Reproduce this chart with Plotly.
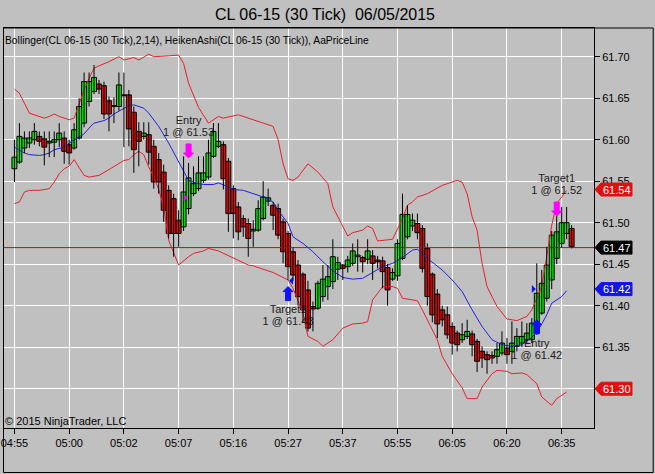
import plotly.graph_objects as go

# ---------------- data ----------------
title_text = "CL 06-15 (30 Tick)  06/05/2015"
legend_text = "Bollinger(CL 06-15 (30 Tick),2,14), HeikenAshi(CL 06-15 (30 Tick)), AaPriceLine"
copyright_text = "\u00a9 2015 NinjaTrader, LLC"

tick_index = [0, 11, 22, 33, 44, 55, 66, 77, 88, 99, 110]
tick_labels = ["04:55", "05:00", "05:02", "05:07", "05:16", "05:27",
               "05:37", "05:55", "06:05", "06:20", "06:35"]

ha_open = [61.565, 61.573, 61.590, 61.596, 61.600, 61.604, 61.601, 61.596, 61.597, 61.600,
           61.602, 61.594, 61.590, 61.602, 61.620, 61.646, 61.658, 61.667, 61.665, 61.647,
           61.640, 61.640, 61.654, 61.654, 61.633, 61.610, 61.604, 61.606, 61.592, 61.576,
           61.561, 61.539, 61.529, 61.503, 61.495, 61.517, 61.535, 61.541, 61.551, 61.555,
           61.580, 61.592, 61.594, 61.574, 61.541, 61.519, 61.505, 61.499, 61.490, 61.491,
           61.505, 61.526, 61.521, 61.517, 61.501, 61.487, 61.465, 61.449, 61.438, 61.419,
           61.399, 61.397, 61.411, 61.423, 61.429, 61.444, 61.449, 61.447, 61.451, 61.459,
           61.458, 61.456, 61.460, 61.455, 61.454, 61.446, 61.432, 61.436, 61.457, 61.483,
           61.496, 61.499, 61.493, 61.469, 61.438, 61.414, 61.395, 61.389, 61.375, 61.367,
           61.359, 61.363, 61.366, 61.357, 61.345, 61.341, 61.340, 61.339, 61.343, 61.349,
           61.345, 61.351, 61.355, 61.359, 61.359, 61.367, 61.391, 61.409, 61.431, 61.457,
           61.475, 61.487, 61.493]
ha_high = [61.600, 61.620, 61.610, 61.610, 61.620, 61.610, 61.610, 61.610, 61.610, 61.620,
           61.610, 61.600, 61.620, 61.650, 61.681, 61.681, 61.690, 61.672, 61.670, 61.652,
           61.651, 61.681, 61.681, 61.660, 61.640, 61.621, 61.621, 61.621, 61.600, 61.584,
           61.570, 61.545, 61.535, 61.515, 61.580, 61.572, 61.568, 61.580, 61.580, 61.600,
           61.620, 61.620, 61.598, 61.578, 61.545, 61.525, 61.509, 61.505, 61.503, 61.527,
           61.550, 61.541, 61.525, 61.523, 61.505, 61.490, 61.470, 61.455, 61.440, 61.430,
           61.405, 61.430, 61.449, 61.449, 61.480, 61.459, 61.450, 61.460, 61.475, 61.480,
           61.460, 61.480, 61.467, 61.460, 61.459, 61.450, 61.445, 61.480, 61.535, 61.521,
           61.511, 61.511, 61.497, 61.475, 61.440, 61.420, 61.400, 61.399, 61.380, 61.370,
           61.379, 61.383, 61.370, 61.360, 61.351, 61.345, 61.345, 61.355, 61.369, 61.361,
           61.381, 61.373, 61.381, 61.379, 61.385, 61.451, 61.443, 61.471, 61.490, 61.515,
           61.519, 61.519, 61.497]
ha_low = [61.549, 61.571, 61.584, 61.590, 61.594, 61.592, 61.569, 61.579, 61.579, 61.591,
          61.571, 61.570, 61.588, 61.600, 61.615, 61.640, 61.655, 61.655, 61.625, 61.610,
          61.620, 61.635, 61.591, 61.592, 61.560, 61.568, 61.600, 61.570, 61.541, 61.535,
          61.501, 61.481, 61.459, 61.471, 61.490, 61.510, 61.532, 61.538, 61.548, 61.552,
          61.578, 61.590, 61.540, 61.489, 61.481, 61.479, 61.483, 61.459, 61.471, 61.489,
          61.503, 61.520, 61.491, 61.480, 61.451, 61.431, 61.430, 61.400, 61.380, 61.369,
          61.369, 61.395, 61.405, 61.407, 61.420, 61.431, 61.431, 61.440, 61.448, 61.441,
          61.440, 61.450, 61.431, 61.445, 61.421, 61.400, 61.430, 61.430, 61.455, 61.480,
          61.490, 61.480, 61.440, 61.400, 61.380, 61.361, 61.375, 61.360, 61.341, 61.345,
          61.355, 61.360, 61.339, 61.320, 61.325, 61.318, 61.330, 61.330, 61.340, 61.330,
          61.330, 61.345, 61.350, 61.355, 61.355, 61.365, 61.389, 61.405, 61.420, 61.450,
          61.470, 61.480, 61.469]
ha_close = [61.579, 61.604, 61.602, 61.602, 61.610, 61.598, 61.591, 61.598, 61.600, 61.608,
            61.586, 61.584, 61.612, 61.640, 61.670, 61.670, 61.675, 61.661, 61.631, 61.631,
            61.641, 61.666, 61.653, 61.613, 61.588, 61.598, 61.608, 61.585, 61.549, 61.549,
            61.515, 61.487, 61.487, 61.487, 61.537, 61.554, 61.547, 61.560, 61.560, 61.584,
            61.610, 61.598, 61.553, 61.511, 61.511, 61.489, 61.495, 61.481, 61.492, 61.517,
            61.531, 61.530, 61.509, 61.485, 61.465, 61.447, 61.437, 61.411, 61.395, 61.373,
            61.396, 61.427, 61.432, 61.435, 61.459, 61.452, 61.445, 61.455, 61.466, 61.461,
            61.453, 61.466, 61.451, 61.453, 61.441, 61.419, 61.440, 61.475, 61.510, 61.510,
            61.503, 61.488, 61.445, 61.411, 61.389, 61.378, 61.383, 61.365, 61.355, 61.353,
            61.365, 61.369, 61.353, 61.333, 61.337, 61.335, 61.337, 61.347, 61.355, 61.341,
            61.355, 61.363, 61.363, 61.367, 61.379, 61.415, 61.427, 61.449, 61.485, 61.489,
            61.500, 61.500, 61.471]

upper_idx = [0, 1, 2, 3, 4, 5, 6, 7, 8, 9, 10, 11, 12, 13, 14, 15, 16, 17, 19, 21, 22, 24, 25,
             27, 28, 31, 33, 34, 35, 37, 39, 41, 42, 45, 46, 48, 52, 53, 54, 55, 56, 57, 59,
             61, 63, 64, 66, 67, 68, 70, 71, 72, 73, 75, 76, 78, 79, 80, 81, 83, 86, 87, 89,
             90, 91, 92, 93, 94, 95, 97, 99, 101, 103, 104, 106, 107, 108, 109, 111]
upper_val = [61.661, 61.656, 61.644, 61.632, 61.630, 61.628, 61.626, 61.628, 61.631, 61.628,
             61.626, 61.624, 61.626, 61.644, 61.660, 61.674, 61.686, 61.689, 61.694, 61.700,
             61.696, 61.699, 61.696, 61.703, 61.700, 61.701, 61.702, 61.692, 61.668, 61.639,
             61.620, 61.628, 61.626, 61.630, 61.628, 61.624, 61.616, 61.600, 61.571, 61.553,
             61.551, 61.555, 61.571, 61.561, 61.547, 61.519, 61.495, 61.484, 61.488, 61.491,
             61.496, 61.493, 61.478, 61.479, 61.480, 61.505, 61.521, 61.525, 61.531, 61.535,
             61.545, 61.547, 61.551, 61.549, 61.535, 61.507, 61.491, 61.451, 61.423, 61.399,
             61.384, 61.382, 61.387, 61.395, 61.423, 61.459, 61.497, 61.523, 61.539]

middle_idx = [0, 2, 3, 5, 6, 7, 8, 10, 11, 12, 14, 15, 16, 18, 19, 20, 22, 23, 24, 26, 27,
              29, 31, 33, 34, 35, 37, 38, 40, 41, 43, 44, 46, 48, 50, 52, 53, 55, 56, 58,
              60, 62, 64, 66, 68, 70, 72, 74, 76, 78, 80, 81, 83, 86, 88, 90, 92, 94, 96,
              98, 100, 102, 104, 105, 106, 107, 108, 110, 111]
middle_val = [61.591, 61.584, 61.582, 61.581, 61.582, 61.584, 61.588, 61.591, 61.596, 61.600,
              61.607, 61.614, 61.620, 61.623, 61.626, 61.631, 61.638, 61.641, 61.642, 61.638,
              61.632, 61.616, 61.596, 61.574, 61.563, 61.551, 61.547, 61.546, 61.546, 61.548,
              61.543, 61.540, 61.539, 61.535, 61.531, 61.525, 61.515, 61.499, 61.483, 61.475,
              61.465, 61.453, 61.442, 61.434, 61.432, 61.433, 61.440, 61.447, 61.451, 61.458,
              61.467, 61.468, 61.457, 61.443, 61.431, 61.417, 61.395, 61.375, 61.359, 61.353,
              61.351, 61.353, 61.362, 61.368, 61.378, 61.389, 61.403, 61.411, 61.418]

lower_idx = [0, 1, 2, 3, 5, 7, 8, 9, 10, 11, 12, 13, 14, 15, 17, 19, 20, 21, 22, 23, 24, 25,
             26, 27, 28, 29, 30, 31, 33, 35, 36, 38, 39, 41, 43, 45, 47, 48, 50, 52, 53, 55,
             56, 58, 59, 61, 62, 64, 66, 68, 70, 71, 72, 74, 76, 77, 78, 80, 81, 82, 84, 85,
             86, 88, 90, 91, 93, 94, 96, 97, 99, 100, 102, 103, 105, 106, 108, 109, 111]
lower_val = [61.523, 61.525, 61.537, 61.539, 61.539, 61.541, 61.549, 61.559, 61.565, 61.568,
             61.576, 61.567, 61.557, 61.555, 61.557, 61.564, 61.568, 61.572, 61.575, 61.576,
             61.582, 61.586, 61.582, 61.567, 61.555, 61.540, 61.519, 61.479, 61.449, 61.459,
             61.463, 61.466, 61.469, 61.466, 61.460, 61.455, 61.449, 61.448, 61.444, 61.440,
             61.437, 61.431, 61.421, 61.391, 61.363, 61.357, 61.351, 61.359, 61.373, 61.378,
             61.379, 61.381, 61.407, 61.423, 61.423, 61.421, 61.409, 61.407, 61.406, 61.395,
             61.372, 61.359, 61.339, 61.318, 61.301, 61.288, 61.288, 61.302, 61.318, 61.322,
             61.321, 61.318, 61.319, 61.317, 61.306, 61.290, 61.280, 61.288, 61.296]

price_line = 61.47

trade_idx = [35, 55, 105, 109]
trade_name = ["Entry", "Target1", "Entry", "Target1"]
trade_qty = [1, 1, 1, 1]
trade_price = [61.53, 61.43, 61.42, 61.52]
trade_action = ["sell", "buy", "buy", "sell"]
trade_is_entry = [True, False, True, False]
trade_arrow_price = [61.578, 61.423, 61.383, 61.508]

badge_price = [61.54, 61.47, 61.42, 61.30]
badge_color = ["#e01010", "#000000", "#1414e6", "#e01010"]

# ---------------- layout constants ----------------
W, H = 655, 474
PL, PR, PT, PB = 1, 594, 28, 428
PRICE_TOP_REF, PX_REF_Y, PX_PER_UNIT = 61.70, 56.7, 830.0
Y_MAX = PRICE_TOP_REF + (PX_REF_Y - PT) / PX_PER_UNIT
Y_MIN = PRICE_TOP_REF - (PB - PX_REF_Y) / PX_PER_UNIT
X_MIN = -2.1
X_MAX = X_MIN + (PR - PL) / 5.0
PLOT_H = PB - PT

BG = "#c0c0c0"
UP = "#18e018"
DN = "#d81010"
MAGENTA = "#ff00ff"
BLUE = "#1010ff"
FONT = "Liberation Sans, Arial, sans-serif"

fig = go.Figure()

# price line
fig.add_trace(go.Scatter(x=[X_MIN, X_MAX], y=[price_line, price_line], mode="lines",
                         line=dict(color="#e00000", width=1), hoverinfo="skip"))

# Bollinger bands
fig.add_trace(go.Scatter(x=upper_idx, y=upper_val, mode="lines",
                         line=dict(color="#e8202a", width=1), hoverinfo="skip"))
fig.add_trace(go.Scatter(x=lower_idx, y=lower_val, mode="lines",
                         line=dict(color="#e8202a", width=1), hoverinfo="skip"))
fig.add_trace(go.Scatter(x=middle_idx, y=middle_val, mode="lines",
                         line=dict(color="#2020e0", width=1), hoverinfo="skip"))

# trade texts (drawn below candles, as in the reference)
for i, name, q, p, act, ap in zip(trade_idx, trade_name, trade_qty, trade_price,
                                  trade_action, trade_arrow_price):
    if act == "sell":
        y1 = ap + 37 / PX_PER_UNIT
        y2 = ap + 25 / PX_PER_UNIT
    else:
        y1 = ap - 24 / PX_PER_UNIT
        y2 = ap - 36 / PX_PER_UNIT
    fig.add_trace(go.Scatter(x=[i, i], y=[y1, y2], mode="text",
                             text=[name, f"{q} @ {p:.2f}"], textposition="middle center",
                             textfont=dict(family=FONT, size=11, color="#202020"),
                             hoverinfo="skip"))

# wicks
n = len(ha_open)
wx, wy = [], []
for i in range(n):
    wx += [i, i, None]
    wy += [ha_low[i], ha_high[i], None]
fig.add_trace(go.Scatter(x=wx, y=wy, mode="lines", line=dict(color="#000000", width=1),
                         hoverinfo="skip"))

# bodies
base = [min(o, c) for o, c in zip(ha_open, ha_close)]
height = [max(abs(c - o), 0.0008) for o, c in zip(ha_open, ha_close)]
colors = [UP if c >= o else DN for o, c in zip(ha_open, ha_close)]
fig.add_trace(go.Bar(x=list(range(n)), y=height, base=base, width=1.0,
                     marker=dict(color=colors, line=dict(color="#000000", width=1)),
                     hoverinfo="skip"))

shapes = []
annotations = []

# trade arrows and execution triangles
for i, p, act, is_entry, ap in zip(trade_idx, trade_price, trade_action,
                                   trade_is_entry, trade_arrow_price):
    col = MAGENTA if act == "sell" else BLUE
    if act == "sell":
        path = "M-2.5,14 L2.5,14 L2.5,5 L5,5 L0,0 L-5,5 L-2.5,5 Z"
    else:
        path = "M-2.5,-14 L2.5,-14 L2.5,-5 L5,-5 L0,0 L-5,-5 L-2.5,-5 Z"
    shapes.append(dict(type="path", xref="x", yref="y", xsizemode="pixel", ysizemode="pixel",
                       xanchor=i, yanchor=ap, path=path, fillcolor=col,
                       line=dict(color=col, width=1), layer="above"))
    if i != trade_idx[-1]:
        tpath = "M-5,4 L-1,0 L-5,-4 Z" if is_entry else "M5,4 L1,0 L5,-4 Z"
        shapes.append(dict(type="path", xref="x", yref="y", xsizemode="pixel",
                           ysizemode="pixel", xanchor=i, yanchor=p, path=tpath,
                           fillcolor=col, line=dict(color=col, width=0), layer="above"))

# price badges on the axis
for p, c in zip(badge_price, badge_color):
    shapes.append(dict(type="path", xref="paper", yref="y", xsizemode="pixel",
                       ysizemode="pixel", xanchor=1, yanchor=p,
                       path="M1,0 L7,6.5 L38,6.5 L38,-6.5 L7,-6.5 Z",
                       fillcolor=c, line=dict(color=c, width=1), layer="above"))
    annotations.append(dict(x=1, xref="paper", y=p, yref="y", xshift=22.5,
                            text=f"{p:.2f}", showarrow=False, xanchor="center",
                            yanchor="middle",
                            font=dict(family=FONT, size=11, color="#ffffff")))

# outer frame
shapes.append(dict(type="rect", xref="paper", yref="paper",
                   x0=(0.5 - PL) / (PR - PL), x1=(653.5 - PL) / (PR - PL),
                   y0=(PB - 472.5) / PLOT_H, y1=1.0,
                   line=dict(color="#000000", width=1), layer="above"))

annotations.append(dict(x=(324 - PL) / (PR - PL), xref="paper", y=(PB - 14.5) / PLOT_H,
                        yref="paper", text=title_text, showarrow=False,
                        xanchor="center", yanchor="middle",
                        font=dict(family=FONT, size=16, color="#000000")))
annotations.append(dict(x=(3 - PL) / (PR - PL), xref="paper", y=(PB - 40) / PLOT_H,
                        yref="paper", text=legend_text, showarrow=False,
                        xanchor="left", yanchor="middle", xshift=-3,
                        font=dict(family=FONT, size=10.3, color="#000000")))
annotations.append(dict(x=(3 - PL) / (PR - PL), xref="paper", y=(PB - 421) / PLOT_H,
                        yref="paper", text=copyright_text, showarrow=False,
                        xanchor="left", yanchor="middle", xshift=-3,
                        font=dict(family=FONT, size=11, color="#000000")))

fig.update_layout(
    width=W, height=H,
    margin=dict(l=PL, r=W - PR, t=PT, b=H - PB, pad=0),
    paper_bgcolor=BG, plot_bgcolor=BG,
    showlegend=False, barmode="overlay", bargap=0,
    shapes=shapes, annotations=annotations,
    xaxis=dict(range=[X_MIN, X_MAX], tickvals=tick_index, ticktext=tick_labels,
               showgrid=True, gridcolor="#ffffff", gridwidth=1, zeroline=False,
               showline=True, mirror=True, linecolor="#000000", linewidth=1,
               ticks="outside", ticklen=5, tickcolor="#000000",
               ticklabeloverflow="allow",
               tickfont=dict(family=FONT, size=11, color="#000000"), fixedrange=True),
    yaxis=dict(range=[Y_MIN, Y_MAX], side="right", tick0=61.30, dtick=0.05,
               tickformat=".2f", showgrid=True, gridcolor="#ffffff", gridwidth=1,
               zeroline=False, showline=True, mirror=True, linecolor="#000000",
               linewidth=1, ticks="outside", ticklen=5, tickcolor="#000000",
               tickfont=dict(family=FONT, size=11, color="#000000"), fixedrange=True),
)

fig.write_html("out.html",
               config={"displayModeBar": False, "staticPlot": True},
               post_script="document.body.style.margin='0';"
                           "document.body.style.overflow='hidden';"
                           "document.body.style.background='#c0c0c0';")
